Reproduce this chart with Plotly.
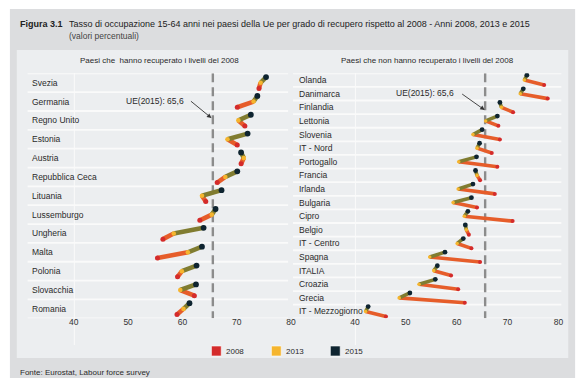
import plotly.graph_objects as go

# ---------------- data ----------------
left_countries = ["Svezia", "Germania", "Regno Unito", "Estonia", "Austria", "Repubblica Ceca",
                  "Lituania", "Lussemburgo", "Ungheria", "Malta", "Polonia", "Slovacchia", "Romania"]
left_2008 = [74.1, 70.1, 71.5, 70.1, 70.8, 66.4, 64.3, 63.2, 56.4, 55.4, 59.1, 62.2, 59.0]
left_2013 = [74.4, 73.1, 70.3, 68.3, 71.3, 67.9, 63.6, 65.4, 58.4, 61.0, 59.9, 59.6, 60.2]
left_2015 = [75.4, 73.8, 72.6, 72.0, 70.8, 70.1, 67.2, 66.1, 63.9, 63.6, 62.6, 62.5, 61.3]

right_countries = ["Olanda", "Danimarca", "Finlandia", "Lettonia", "Slovenia", "IT - Nord", "Portogallo",
                   "Francia", "Irlanda", "Bulgaria", "Cipro", "Belgio", "IT - Centro", "Spagna", "ITALIA",
                   "Croazia", "Grecia", "IT - Mezzogiorno"]
right_2008 = [77.2, 77.9, 71.1, 68.2, 68.5, 66.9, 68.0, 64.6, 67.5, 64.0, 71.0, 62.4, 62.9, 64.6, 58.9, 60.3, 61.6, 46.1]
right_2013 = [73.3, 72.5, 68.8, 65.7, 63.2, 64.0, 60.4, 64.0, 60.3, 59.3, 61.5, 61.9, 60.1, 54.7, 55.5, 52.6, 48.7, 42.1]
right_2015 = [73.8, 73.1, 68.5, 68.0, 65.0, 64.5, 63.9, 63.7, 63.2, 62.9, 62.2, 61.7, 61.3, 57.7, 56.2, 55.8, 50.8, 42.6]

eu_2015 = 65.6
x_ticks = [40, 50, 60, 70, 80]
years = ["2008", "2013", "2015"]

# ---------------- style ----------------
W, H = 587, 392
FONT = "Liberation Sans, Arial, sans-serif"
C08, C13, C15 = "#d42b2b", "#f5b52e", "#0e2430"
SEG1, SEG2 = "#e65d2a", "#807c30"
TXT = "#2a2a2a"


def px(x):
    return x / W


def py(y):
    return 1 - y / H


fig = go.Figure()

panels = [
    dict(names=left_countries, v08=left_2008, v13=left_2013, v15=left_2015, xa="x", ya="y",
         off=0.3, lw=4.6, ms=(5.0, 4.6, 5.8), lab_x=25, sep=(23, 288)),
    dict(names=right_countries, v08=right_2008, v13=right_2013, v15=right_2015, xa="x2", ya="y2",
         off=0.36, lw=3.6, ms=(4.0, 3.6, 4.8), lab_x=297, sep=(293, 566)),
]

shapes = []
annotations = []

# background boxes
shapes.append(dict(type="rect", xref="paper", yref="paper", x0=px(5), x1=px(580), y0=py(378), y1=py(9),
                   fillcolor="#dcdddf", line=dict(width=0), layer="below"))
shapes.append(dict(type="rect", xref="paper", yref="paper", x0=px(12), x1=px(573), y0=py(358), y1=py(50),
                   fillcolor="#eceef0", line=dict(width=0), layer="below"))

for p in panels:
    n = len(p["names"])
    xs1, ys1, xs2, ys2 = [], [], [], []
    for i in range(n):
        xs1 += [p["v08"][i], p["v13"][i], None]
        ys1 += [i + p["off"], i, None]
        xs2 += [p["v13"][i], p["v15"][i], None]
        ys2 += [i, i - p["off"], None]
    fig.add_trace(go.Scatter(x=xs1, y=ys1, mode="lines", xaxis=p["xa"], yaxis=p["ya"],
                             line=dict(color=SEG1, width=p["lw"]), showlegend=False, hoverinfo="skip"))
    fig.add_trace(go.Scatter(x=xs2, y=ys2, mode="lines", xaxis=p["xa"], yaxis=p["ya"],
                             line=dict(color=SEG2, width=p["lw"]), showlegend=False, hoverinfo="skip"))
    for vals, yo, col, ms, yr in [(p["v08"], p["off"], C08, p["ms"][0], "2008"),
                                   (p["v13"], 0, C13, p["ms"][1], "2013"),
                                   (p["v15"], -p["off"], C15, p["ms"][2], "2015")]:
        fig.add_trace(go.Scatter(x=vals, y=[i + yo for i in range(n)], mode="markers",
                                 xaxis=p["xa"], yaxis=p["ya"], name=yr,
                                 marker=dict(color=col, size=ms, line=dict(width=0)),
                                 showlegend=False, text=p["names"]))
    # row separators
    for i in range(n + 1):
        shapes.append(dict(type="line", xref="paper", yref=p["ya"], x0=px(p["sep"][0]), x1=px(p["sep"][1]),
                           y0=i - 0.5, y1=i - 0.5, line=dict(color="#fafafa", width=1.8), layer="below"))
    # vertical base line at 40
    shapes.append(dict(type="line", xref=p["xa"], yref="paper", x0=40, x1=40, y0=py(345), y1=py(73),
                       line=dict(color="#fafafa", width=2), layer="below"))
    # EU dashed line
    shapes.append(dict(type="line", xref=p["xa"], yref=p["ya"], x0=eu_2015, x1=eu_2015, y0=-0.5, y1=n - 0.5,
                       line=dict(color="#8c8c8c", width=2.4, dash="9px,5px"), layer="below"))
    # country labels
    for i, name in enumerate(p["names"]):
        annotations.append(dict(text=name, xref="paper", yref=p["ya"], x=px(p["lab_x"]), y=i,
                                xanchor="left", yanchor="middle", showarrow=False,
                                font=dict(family=FONT, size=8.5, color=TXT)))

axis_common = dict(range=[40, 80], tickvals=x_ticks, showgrid=False, zeroline=False, showline=False,
                   ticks="", ticklabelstandoff=-3,
                   tickfont=dict(family=FONT, size=8.5, color="#333"), fixedrange=True)
fig.update_layout(
    xaxis=dict(domain=[px(70), px(291)], anchor="y", **axis_common),
    xaxis2=dict(domain=[px(356), px(563)], anchor="y2", **axis_common),
    yaxis=dict(domain=[py(318.3), py(73.3)], range=[len(left_countries) - 0.5, -0.5], visible=False,
               fixedrange=True),
    yaxis2=dict(domain=[py(318.3), py(73.3)], range=[len(right_countries) - 0.5, -0.5], visible=False,
                anchor="x2", fixedrange=True),
)

# EU annotations with arrows
annotations.append(dict(text="UE(2015): 65,6", xref="paper", yref="paper", x=px(153), y=py(101),
                        xanchor="center", yanchor="middle",
                        showarrow=False, font=dict(family=FONT, size=8.5, color=TXT)))
annotations.append(dict(text="", xref="paper", yref="paper", x=px(210), y=py(118), ax=-22, ay=-18,
                        showarrow=True, arrowhead=2, arrowsize=1, arrowwidth=0.9, arrowcolor="#333"))
annotations.append(dict(text="UE(2015): 65,6", xref="paper", yref="paper", x=px(427), y=py(93),
                        xanchor="center", yanchor="middle",
                        showarrow=False, font=dict(family=FONT, size=8.5, color=TXT)))
annotations.append(dict(text="", xref="paper", yref="paper", x=px(488), y=py(110), ax=-24, ay=-17,
                        showarrow=True, arrowhead=2, arrowsize=1, arrowwidth=0.9, arrowcolor="#333"))

# panel titles
annotations.append(dict(text="Paesi che  hanno recuperato i livelli del 2008", xref="paper", yref="paper",
                        x=px(157), y=py(60), xanchor="center", yanchor="middle", showarrow=False,
                        font=dict(family=FONT, size=8, color=TXT)))
annotations.append(dict(text="Paesi che non hanno recuperato i livelli del 2008", xref="paper", yref="paper",
                        x=px(430), y=py(60), xanchor="center", yanchor="middle", showarrow=False,
                        font=dict(family=FONT, size=8, color=TXT)))

# figure title
annotations.append(dict(text="<b>Figura 3.1</b>", xref="paper", yref="paper", x=px(13), y=py(24),
                        xanchor="left", yanchor="middle", showarrow=False,
                        font=dict(family=FONT, size=9, color="#222")))
annotations.append(dict(text="Tasso di occupazione 15-64 anni nei paesi della Ue per grado di recupero rispetto al 2008 - Anni 2008, 2013 e 2015",
                        xref="paper", yref="paper", x=px(63), y=py(24), xanchor="left", yanchor="middle",
                        showarrow=False, font=dict(family=FONT, size=9, color="#222")))
annotations.append(dict(text="(valori percentuali)", xref="paper", yref="paper", x=px(63), y=py(36),
                        xanchor="left", yanchor="middle", showarrow=False,
                        font=dict(family=FONT, size=8.5, color="#444")))

# legend (drawn manually)
leg_colors = [C08, C13, C15]
leg_x = [210, 271, 331]
for yr, col, lx in zip(years, leg_colors, leg_x):
    shapes.append(dict(type="rect", xref="paper", yref="paper", x0=px(lx), x1=px(lx + 10), y0=py(356), y1=py(346),
                       fillcolor=col, line=dict(color="#ffffff", width=0.6)))
    annotations.append(dict(text=yr, xref="paper", yref="paper", x=px(lx + 13), y=py(351),
                            xanchor="left", yanchor="middle", showarrow=False,
                            font=dict(family=FONT, size=8, color=TXT)))

# footer
annotations.append(dict(text="Fonte: Eurostat, Labour force survey", xref="paper", yref="paper", x=px(13), y=py(372.5),
                        xanchor="left", yanchor="middle", showarrow=False,
                        font=dict(family=FONT, size=8, color=TXT)))

fig.update_layout(
    width=W, height=H, margin=dict(l=0, r=0, t=0, b=0),
    paper_bgcolor="white", plot_bgcolor="rgba(0,0,0,0)",
    shapes=shapes, annotations=annotations, showlegend=False,
    font=dict(family=FONT),
)

fig.write_html("out.html", config={"displayModeBar": False},
               post_script="document.body.style.margin='0';")
